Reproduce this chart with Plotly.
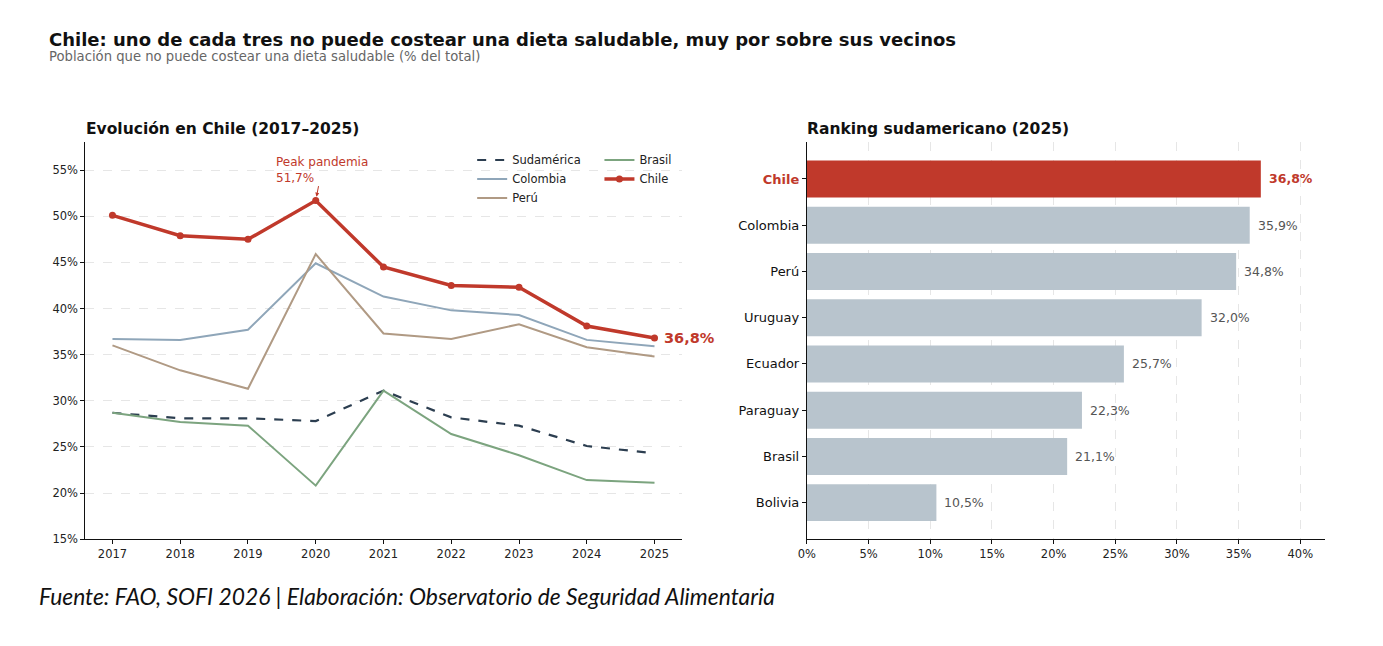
import plotly.graph_objects as go

years = [2017, 2018, 2019, 2020, 2021, 2022, 2023, 2024, 2025]

sudamerica = [28.7, 28.1, 28.1, 27.8, 31.1, 28.2, 27.3, 25.1, 24.3]
colombia = [36.7, 36.6, 37.7, 44.9, 41.3, 39.8, 39.3, 36.6, 35.9]
peru = [36.0, 33.3, 31.3, 45.9, 37.3, 36.7, 38.3, 35.8, 34.8]
brasil = [28.7, 27.7, 27.3, 20.8, 31.1, 26.4, 24.1, 21.4, 21.1]
chile = [50.1, 47.9, 47.5, 51.7, 44.5, 42.5, 42.3, 38.1, 36.8]

rank_countries = ["Chile", "Colombia", "Perú", "Uruguay", "Ecuador", "Paraguay", "Brasil", "Bolivia"]
rank_values = [36.8, 35.9, 34.8, 32.0, 25.7, 22.3, 21.1, 10.5]

left_yticks = [15, 20, 25, 30, 35, 40, 45, 50, 55]
right_xticks = [0, 5, 10, 15, 20, 25, 30, 35, 40]

RED = "#c0392b"
GREY_BAR = "#b8c4cd"
FONT = "DejaVu Sans"
W, H = 1383, 646

def fmt(v):
    return f"{v:.1f}%".replace(".", ",")

# pixel positions -> paper fractions (small correction for how the page gets photographed)
def px(x):
    return (x - 8.8) / 0.9914 / W

def py(y):
    return 1 - (y + 0.6) / 0.99 / H

fig = go.Figure()

# left panel: lines
series = [
    ("Sudamérica", sudamerica, "#2c3e50", 2.2, "dash", "legend", 1),
    ("Colombia", colombia, "#8fa6b9", 2.0, "solid", "legend", 2),
    ("Perú", peru, "#b09a84", 2.0, "solid", "legend", 3),
    ("Brasil", brasil, "#7ca47f", 2.0, "solid", "legend2", 1),
]
for name, vals, col, w, dash, leg, rank in series:
    fig.add_trace(go.Scatter(
        x=years, y=vals, name=name, mode="lines",
        line=dict(color=col, width=w, dash=dash),
        legend=leg, legendrank=rank, xaxis="x", yaxis="y",
    ))
fig.add_trace(go.Scatter(
    x=years, y=chile, name="Chile", mode="lines+markers",
    line=dict(color=RED, width=3.5), marker=dict(size=7, color=RED),
    legend="legend2", legendrank=2, xaxis="x", yaxis="y",
))

# right panel: ranking bars
ypos = list(range(len(rank_countries)))
bar_colors = [RED if c == "Chile" else GREY_BAR for c in rank_countries]
fig.add_trace(go.Bar(
    x=rank_values, y=ypos, orientation="h",
    marker=dict(color=bar_colors, line=dict(width=0)),
    showlegend=False, xaxis="x2", yaxis="y2", width=0.8,
))

tick_labels = [f"<b><span style='color:{RED}'>{c}</span></b>" if c == "Chile" else c for c in rank_countries]

axis_common = dict(
    showline=True, linecolor="#111111", linewidth=1.1,
    ticks="outside", ticklen=4, tickcolor="#111111",
    tickfont=dict(family=FONT, size=11.5, color="#222222"),
    zeroline=False,
)

fig.update_layout(
    width=W, height=H,
    margin=dict(l=0, r=0, t=0, b=0),
    paper_bgcolor="white", plot_bgcolor="white",
    font=dict(family=FONT, color="#222222"),
    xaxis=dict(domain=[px(85), px(680)], range=[2016.6, 2025.4],
               tickvals=years, showgrid=False, anchor="y", **axis_common),
    yaxis=dict(domain=[py(539), py(142)], range=[15, 58],
               tickvals=left_yticks, ticktext=[f"{v}%" for v in left_yticks],
               showgrid=True, gridcolor="#e6e6e6", griddash="dash", gridwidth=1,
               anchor="x", **axis_common),
    xaxis2=dict(domain=[px(805), px(1322)], range=[0, 42],
                tickvals=right_xticks, ticktext=[f"{v}%" for v in right_xticks],
                showgrid=True, gridcolor="#e6e6e6", griddash="dash", gridwidth=1,
                anchor="y2", **axis_common),
    yaxis2=dict(domain=[py(539), py(142)], range=[7.79, -0.79],
                tickvals=ypos, ticktext=tick_labels,
                showgrid=False, anchor="x2", **{**axis_common,
                "tickfont": dict(family=FONT, size=13, color="#111111")}),
    bargap=0.2,
    legend=dict(x=px(471), y=py(145), xanchor="left", yanchor="top",
                bgcolor="rgba(0,0,0,0)", font=dict(size=11.5, family=FONT),
                tracegroupgap=0, itemwidth=30),
    legend2=dict(x=px(598), y=py(145), xanchor="left", yanchor="top",
                 bgcolor="rgba(0,0,0,0)", font=dict(size=11.5, family=FONT),
                 tracegroupgap=0, itemwidth=30),
)

annotations = [
    dict(text="<b>Chile: uno de cada tres no puede costear una dieta saludable, muy por sobre sus vecinos</b>",
         x=px(47), y=py(39), xref="paper", yref="paper", xanchor="left", yanchor="middle",
         showarrow=False, font=dict(size=18, family=FONT, color="#111111")),
    dict(text="Población que no puede costear una dieta saludable (% del total)",
         x=px(47), y=py(56), xref="paper", yref="paper", xanchor="left", yanchor="middle",
         showarrow=False, font=dict(size=13.2, family=FONT, color="#666666")),
    dict(text="<b>Evolución en Chile (2017–2025)</b>",
         x=px(84), y=py(129), xref="paper", yref="paper", xanchor="left", yanchor="middle",
         showarrow=False, font=dict(size=15.5, family=FONT, color="#111111")),
    dict(text="<b>Ranking sudamericano (2025)</b>",
         x=px(803), y=py(129), xref="paper", yref="paper", xanchor="left", yanchor="middle",
         showarrow=False, font=dict(size=15.5, family=FONT, color="#111111")),
    dict(text="<i>Fuente: FAO, SOFI 2026 | Elaboración: Observatorio de Seguridad Alimentaria</i>",
         x=px(37), y=py(596), xref="paper", yref="paper", xanchor="left", yanchor="middle",
         showarrow=False, font=dict(size=22.8, family="Lato", color="#111111")),
    dict(text="Peak pandemia<br>51,7%", x=years[3], y=chile[3], xref="x", yref="y",
         ax=6, ay=-31, showarrow=True, arrowhead=2, arrowsize=0.8, arrowwidth=1,
         arrowcolor=RED, standoff=4, align="left",
         font=dict(size=12, family=FONT, color=RED)),
    dict(text=f"<b>{fmt(chile[-1])}</b>", x=years[-1], y=chile[-1], xref="x", yref="y",
         xanchor="left", yanchor="middle", xshift=7, showarrow=False,
         font=dict(size=14.5, family=FONT, color=RED)),
]
for c, v, yp in zip(rank_countries, rank_values, ypos):
    is_chile = c == "Chile"
    annotations.append(dict(
        text=f"<b>{fmt(v)}</b>" if is_chile else fmt(v),
        x=v, y=yp, xref="x2", yref="y2", xanchor="left", yanchor="middle",
        xshift=6, showarrow=False,
        font=dict(size=12.5, family=FONT, color=RED if is_chile else "#555555"),
    ))
fig.update_layout(annotations=annotations)

fig.write_html("out.html", config={"displayModeBar": False},
               post_script="document.body.style.margin='0';document.body.style.overflow='hidden';")
